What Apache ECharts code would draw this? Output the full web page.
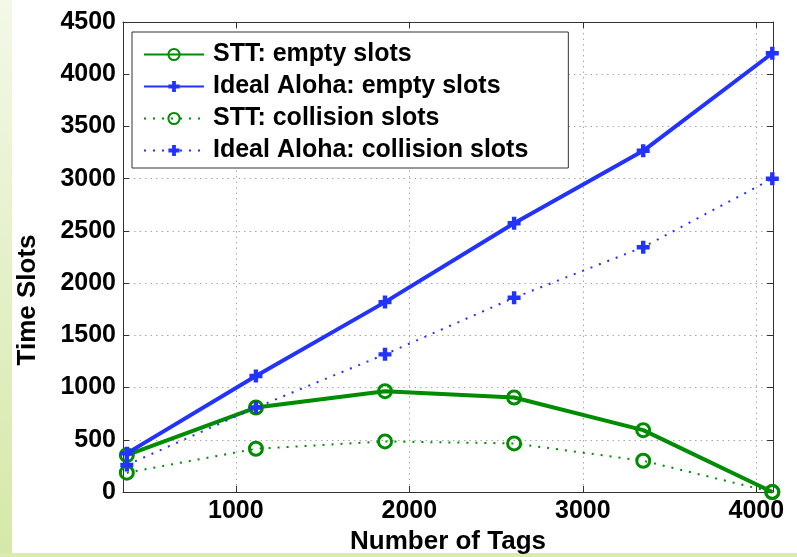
<!DOCTYPE html>
<html>
<head>
<meta charset="utf-8">
<title>Time Slots vs Number of Tags</title>
<script src="https://cdn.jsdelivr.net/npm/echarts@6/dist/echarts.min.js"></script>
<style>
  html, body { margin: 0; padding: 0; background: #ffffff; }
  #chart { width: 797px; height: 557px; }
</style>
</head>
<body>
<div id="chart"></div>
<script>
// Number of tags at each measured point
const tagCounts = [372, 1116, 1860, 2604, 3348, 4092];

// Time slots per scheme
const sttEmpty = [353, 809, 965, 905, 592, 0];
const alohaEmpty = [370, 1111, 1818, 2573, 3267, 4201];
const sttCollision = [185, 414, 484, 465, 299, 0];
const alohaCollision = [258, 809, 1318, 1860, 2344, 3000];

const seriesNames = [
  'STT: empty slots',
  'Ideal Aloha: empty slots',
  'STT: collision slots',
  'Ideal Aloha: collision slots'
];

const GREEN = '#008c00';
const BLUE = '#2233ff';
const AXIS = '#333333';
const FONT = '"Liberation Sans", Arial, Helvetica, sans-serif';
const PLUS = 'path://M-1.7,-5H1.7V-1.7H5V1.7H1.7V5H-1.7V1.7H-5V-1.7H-1.7Z';

function pairs(ys) {
  return tagCounts.map((x, i) => [x, ys[i]]);
}

// plain integers, no thousands separator
const plain = v => String(Math.round(v));

const chart = echarts.init(document.getElementById('chart'), null, { renderer: 'canvas' });

const xCommon = {
  type: 'value',
  min: 350,
  max: 4096,
  splitNumber: 5,
  axisLine: { show: true, onZero: false, lineStyle: { color: AXIS, width: 1 } },
  axisTick: { show: true, inside: true, length: 6, lineStyle: { color: AXIS } }
};
const yCommon = {
  type: 'value',
  min: 0,
  max: 4500,
  interval: 500,
  axisLine: { show: true, onZero: false, lineStyle: { color: AXIS, width: 1 } },
  axisTick: { show: true, inside: true, length: 6, lineStyle: { color: AXIS } }
};

const circleStyle = { color: 'rgba(255,255,255,0)', borderColor: GREEN, borderWidth: 3 };

const option = {
  animation: false,
  backgroundColor: '#ffffff',
  textStyle: { fontFamily: FONT },
  graphic: [
    {
      type: 'rect',
      silent: true,
      z: -10,
      shape: { x: 0, y: 0, width: 12, height: 557 },
      style: {
        fill: new echarts.graphic.LinearGradient(0, 0, 0, 1, [
          { offset: 0, color: '#f3f8e8' },
          { offset: 1, color: '#d6e8a8' }
        ])
      }
    },
    {
      type: 'rect',
      silent: true,
      z: -10,
      shape: { x: 0, y: 553, width: 797, height: 4 },
      style: { fill: '#d9ebb0' }
    }
  ],
  grid: {
    left: 123, right: 24, top: 22, bottom: 65,
    containLabel: false,
    outerBoundsMode: 'none'
  },
  legend: {
    orient: 'vertical',
    left: 132,
    top: 32,
    padding: [10, 40, 5, 11],
    itemWidth: 60,
    itemHeight: 14,
    itemGap: 7,
    backgroundColor: '#ffffff',
    borderColor: AXIS,
    borderWidth: 1,
    data: seriesNames,
    textStyle: {
      fontFamily: FONT,
      fontSize: 25,
      fontWeight: 'bold',
      color: '#000000',
      padding: [0, 0, 0, 4]
    }
  },
  xAxis: [
    Object.assign({}, xCommon, {
      position: 'bottom',
      name: 'Number of Tags',
      nameLocation: 'middle',
      nameGap: 37,
      nameTextStyle: { fontFamily: FONT, fontSize: 26, fontWeight: 'bold', color: '#000' },
      axisLabel: {
        show: true,
        margin: 7,
        showMinLabel: false,
        showMaxLabel: false,
        formatter: plain,
        fontFamily: FONT,
        fontSize: 25,
        fontWeight: 'bold',
        color: '#000'
      },
      splitLine: { show: true, lineStyle: { color: '#a8a8a8', width: 1, type: [1.5, 4] } }
    }),
    Object.assign({}, xCommon, {
      position: 'top',
      axisLabel: { show: false },
      splitLine: { show: false }
    })
  ],
  yAxis: [
    Object.assign({}, yCommon, {
      position: 'left',
      name: 'Time Slots',
      nameLocation: 'middle',
      nameGap: 82,
      nameTextStyle: {
        fontFamily: FONT, fontSize: 26, fontWeight: 'bold', color: '#000',
        padding: [0, 86, 0, 0]
      },
      axisLabel: {
        show: true,
        margin: 7,
        formatter: plain,
        fontFamily: FONT,
        fontSize: 25,
        fontWeight: 'bold',
        color: '#000'
      },
      splitLine: { show: true, lineStyle: { color: '#a8a8a8', width: 1, type: [1.5, 4] } }
    }),
    Object.assign({}, yCommon, {
      position: 'right',
      axisLabel: { show: false },
      splitLine: { show: false }
    })
  ],
  series: [
    {
      name: seriesNames[0],
      type: 'line',
      data: pairs(sttEmpty),
      symbol: 'circle',
      symbolSize: 13,
      lineStyle: { color: GREEN, width: 4 },
      itemStyle: circleStyle,
      z: 2
    },
    {
      name: seriesNames[1],
      type: 'line',
      data: pairs(alohaEmpty),
      symbol: PLUS,
      symbolSize: 13,
      lineStyle: { color: BLUE, width: 4 },
      itemStyle: { color: BLUE },
      z: 3
    },
    {
      name: seriesNames[2],
      type: 'line',
      data: pairs(sttCollision),
      symbol: 'circle',
      symbolSize: 13,
      lineStyle: { color: GREEN, width: 2, type: [2, 7] },
      itemStyle: circleStyle,
      z: 4
    },
    {
      name: seriesNames[3],
      type: 'line',
      data: pairs(alohaCollision),
      symbol: PLUS,
      symbolSize: 13,
      lineStyle: { color: BLUE, width: 2, type: [2, 7] },
      itemStyle: { color: BLUE },
      z: 5
    }
  ]
};

chart.setOption(option);
</script>
</body>
</html>
